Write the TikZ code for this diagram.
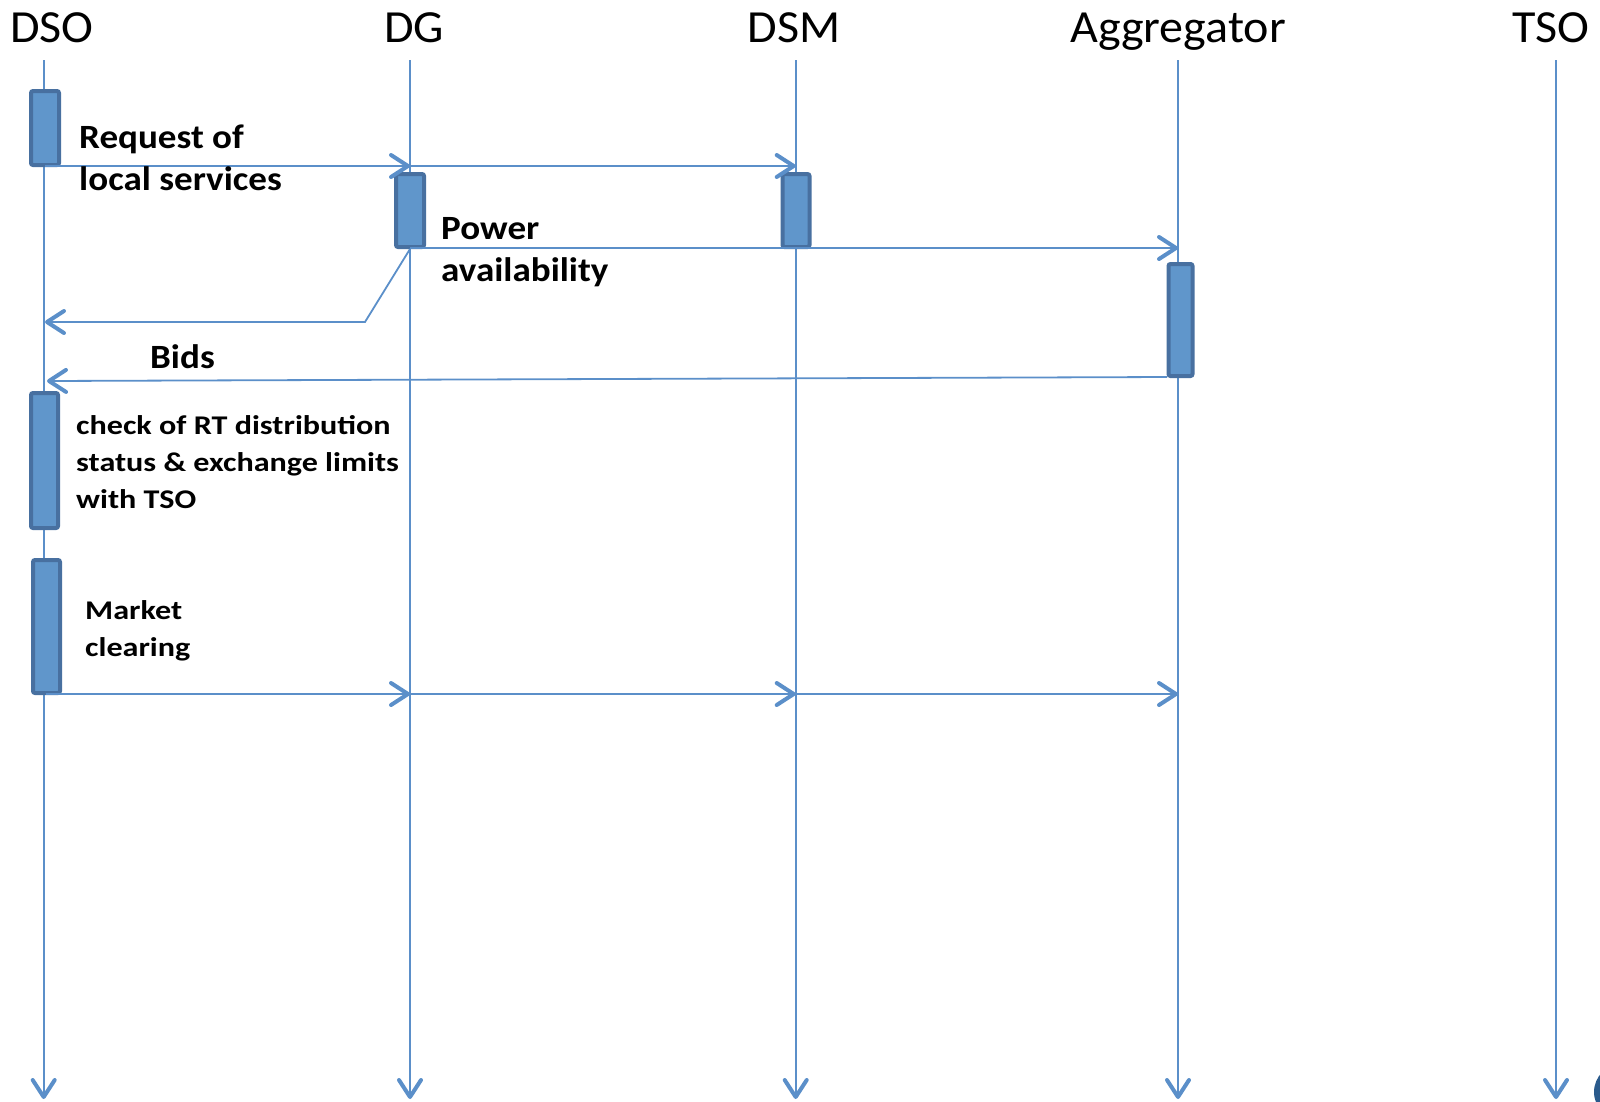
\documentclass[tikz,border=0pt]{standalone}
\usepackage{fontspec}
\setmainfont{Carlito}
\newfontfamily\hdfont[FakeStretch=1.045]{Carlito}
\newfontfamily\bigfont[FakeStretch=1.09]{Carlito}
\newfontfamily\smallfont[FakeStretch=1.19]{Carlito}
\usetikzlibrary{arrows.meta}
\definecolor{lineblue}{HTML}{5B8FC9}
\definecolor{boxfill}{HTML}{6096CB}
\definecolor{boxedge}{HTML}{4870A0}
\definecolor{darkdot}{HTML}{2A5A8C}
\begin{document}
\begin{tikzpicture}[x=1pt,y=-1pt,
  tipv/.tip={Straight Barb[length=17pt,width=22pt,line width=4pt,round]},
  lifeline/.style={draw=lineblue,line width=1.8pt,-tipv},
  msg/.style={draw=lineblue,line width=1.8pt,-tipv},
  actbox/.style={draw=boxedge,fill=boxfill,line width=4pt,rounded corners=2pt,inner sep=0pt,outer sep=0pt},
  head/.style={anchor=base,inner sep=0pt,font=\hdfont\fontsize{46}{55}\selectfont},
  biglbl/.style={anchor=base west,inner sep=0pt,align=left,font=\bigfont\bfseries\fontsize{34}{42}\selectfont},
  smalllbl/.style={anchor=base west,inner sep=0pt,align=left,font=\smallfont\bfseries\fontsize{27}{37}\selectfont}
]
\useasboundingbox (0,0) rectangle (1600,1101);
% headers
\node[head] (hDSO) at (52,42) {DSO};
\node[head] (hDG) at (414,42) {DG};
\node[head] (hDSM) at (794,42) {DSM};
\node[head] (hAgg) at (1178,42) {Aggregator};
\node[head] (hTSO) at (1551,42) {TSO};
% lifelines
\foreach \n/\x in {DSO/43.7,DG/410,DSM/795.7,Agg/1178,TSO/1556}{
  \coordinate (t\n) at (\x,60);
  \coordinate (e\n) at (\x,1099);
}
\foreach \n in {DSO,DG,DSM,Agg,TSO}{\draw[lifeline] (t\n) -- (e\n);}
% activation boxes
\node[actbox,minimum width=28pt,minimum height=74pt] (b1) at (45,128) {};
\node[actbox,minimum width=28pt,minimum height=73pt] (b2) at (410,210.5) {};
\node[actbox,minimum width=27pt,minimum height=73pt] (b3) at (796,210.5) {};
\node[actbox,minimum width=24pt,minimum height=112pt] (b4) at (1180.5,320) {};
\node[actbox,minimum width=27pt,minimum height=135pt] (b5) at (44.5,460.5) {};
\node[actbox,minimum width=27pt,minimum height=133pt] (b6) at (46.5,626.5) {};
% coordinates for messages
\coordinate (r0) at (45,166);
\coordinate (r1) at (410,166);
\coordinate (r2) at (795.7,166);
\coordinate (p0) at (410,248);
\coordinate (p1) at (1178,248);
\coordinate (q0) at (410,249);
\coordinate (q1) at (365,322);
\coordinate (q2) at (45,322);
\coordinate (s0) at (1167,377);
\coordinate (s1) at (47,381);
\coordinate (m0) at (46,694);
\coordinate (m1) at (410,694);
\coordinate (m2) at (795.7,694);
\coordinate (m3) at (1178,694);
% messages
\draw[msg] (r0) -- (r1);
\draw[msg] (r1) -- (r2);
\draw[msg] (p0) -- (p1);
\draw[msg] (q0) -- (q1) -- (q2);
\draw[msg] (s0) -- (s1);
\draw[msg] (m0) -- (m1);
\draw[msg] (m1) -- (m2);
\draw[msg] (m2) -- (m3);
% labels (anchored at the baseline of the last line)
\node[biglbl] (lReq) at (79,190) {Request of\\local services};
\node[biglbl] (lPow) at (441,281) {Power\\availability};
\node[biglbl] (lBids) at (150,368) {Bids};
\node[smalllbl] (lChk) at (76,508) {check of RT distribution\\status \& exchange limits\\with TSO};
\node[smalllbl] (lMkt) at (85,656) {Market\\clearing};
% partial dot at the corner
\fill[darkdot] (1622,1092) circle (28pt);
\end{tikzpicture}
\end{document}
